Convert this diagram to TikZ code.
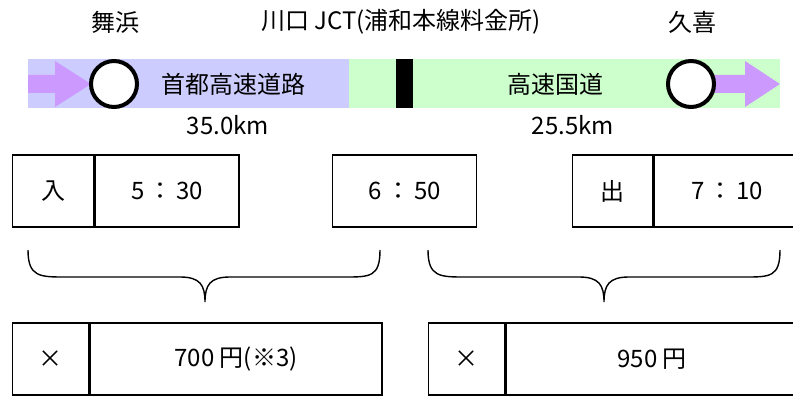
\documentclass[tikz,border=0pt]{standalone}
\usepackage{fontspec}
\setmainfont{Noto Sans CJK JP}
\usetikzlibrary{positioning}
\definecolor{shuto}{HTML}{CCCCFF}
\definecolor{kokudo}{HTML}{CCFFCC}
\definecolor{yajirushi}{HTML}{CC99FF}
\tikzset{
  txt/.style={font=\fontsize{24}{28}\selectfont, inner sep=0pt},
  cell/.style={draw, line width=1.4pt, minimum height=72pt, inner sep=0pt,
    font=\fontsize{24}{28}\selectfont, anchor=west},
  ic/.style={circle, draw, line width=4pt, fill=white, minimum size=46pt, inner sep=0pt},
  kakko/.style={line width=1.4pt}
}
\begin{document}
\begin{tikzpicture}[x=1pt,y=-1pt]
	\useasboundingbox (0,0) rectangle (793,396);
	\clip (0,0) rectangle (793,396);
	% road band
	\fill[shuto] (28,59) rectangle (349,108);
	\fill[kokudo] (349,59) rectangle (780,108);
	\fill[black] (396,59) rectangle (413,108);
	% arrows
	\fill[yajirushi] (28,75) -- (55,75) -- (55,61) -- (91,84) -- (55,107) -- (55,93) -- (28,93) -- cycle;
	\fill[yajirushi] (700,75) -- (745,75) -- (745,61) -- (780,84) -- (745,107) -- (745,93) -- (700,93) -- cycle;
	\node[ic] (maihama) at (114,84) {};
	\node[ic] (kuki) at (691,84) {};
	% labels
	\node[txt] (lmaihama) at (115,22) {舞浜};
	\node[txt] (ljct) at (401,22) {川口 JCT(浦和本線料金所)};
	\node[txt] (lkuki) at (692,22) {久喜};
	\node[txt] (lshuto) at (233,84) {首都高速道路};
	\node[txt] (lkokudo) at (555,84) {高速国道};
	\node[txt] (km1) at (228,125) {35.0km};
	\node[txt] (km2) at (573,125) {25.5km};
	% times
	\node[cell, minimum width=81pt] (iri) at (12,191) {入};
	\node[cell, minimum width=144pt] (t1) at (iri.east) {5\,：\,30};
	\node[cell, minimum width=144pt] (t2) at (332,191) {6\,：\,50};
	\node[cell, minimum width=80pt] (de) at (572,191) {出};
	\node[cell, minimum width=146pt] (t3) at (de.east) {7\,：\,10};
	% braces
	\draw[kakko] (28,250) .. controls (28,277) and (40,277) .. (65,277) -- (180,277)
	  .. controls (200,277) and (205,285) .. (205,302) .. controls (205,285) and (210,277) .. (230,277)
	  -- (345,277) .. controls (370,277) and (380,277) .. (380,250);
	\draw[kakko] (428,250) .. controls (428,277) and (440,277) .. (465,277) -- (579,277)
	  .. controls (599,277) and (604,285) .. (604,302) .. controls (604,285) and (609,277) .. (629,277)
	  -- (745,277) .. controls (770,277) and (780,277) .. (780,250);
	% fares
	\node[cell, minimum width=76pt] (batsu1) at (12,359) {×};
	\node[cell, minimum width=292pt] (ryokin1) at (batsu1.east) {700 円(※3)};
	\node[cell, minimum width=76pt] (batsu2) at (428,359) {×};
	\node[cell, minimum width=292pt] (ryokin2) at (batsu2.east) {950 円};
\end{tikzpicture}
\end{document}
